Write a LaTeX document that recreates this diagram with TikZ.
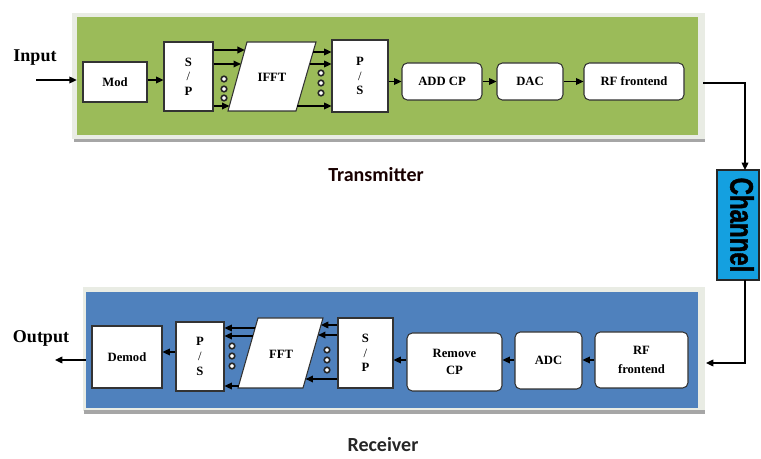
\documentclass[tikz,border=0pt]{standalone}
\usepackage{fontspec}
\setmainfont{Liberation Serif}
\newfontfamily\carlito{Carlito}
\newfontfamily\lsans[FakeBold=1.5]{Liberation Sans}
\usetikzlibrary{arrows.meta}
\definecolor{txgreen}{HTML}{9BBB59}
\definecolor{rxblue}{HTML}{4F81BD}
\definecolor{chcyan}{HTML}{14A0E0}
\definecolor{panelrim}{HTML}{E9ECE4}
\begin{document}
\begin{tikzpicture}[x=0.75pt,y=-0.75pt,
  blk/.style={draw=black!80, line width=0.8pt, fill=white, inner sep=0pt,
    font=\bfseries\fontsize{9.5}{10}\selectfont, align=center},
  rblk/.style={blk, rounded corners=4pt},
  arr/.style={-{Triangle[length=5.5pt,width=5pt]}, line width=1pt},
  dotc/.style={circle, draw=black!85, line width=1.2pt, fill=white, inner sep=0pt, minimum size=4.2pt},
  para/.style={draw=black!80, line width=0.8pt, fill=white},
  ptxt/.style={font=\bfseries\fontsize{9.5}{10}\selectfont},
  iolbl/.style={font=\bfseries\fontsize{13.5}{14}\selectfont},
  captxt/.style={font=\carlito\bfseries\fontsize{15}{16}\selectfont, inner sep=0pt, anchor=base}
]
\useasboundingbox (0,0) rectangle (761,459);

% ---------------- Transmitter panel ----------------
\fill[panelrim] (72,13) rectangle (705,139);
\fill[black!35] (74,139) rectangle (705,142);
\node[fill=txgreen, inner sep=0pt, minimum width=465.75pt, minimum height=88.5pt] (tx) at (387.5,76) {};

\node[iolbl] (inlbl) at (35,58) {Input};
\coordinate (instart) at (36,80);

\node[blk, minimum width=48pt, minimum height=30pt] (mod) at (115,82) {Mod};
\node[blk, minimum width=36.75pt, minimum height=51.75pt] (sp1) at (188.5,76.5) {S\\[1pt]{\mdseries /}\\[1pt]P};
\draw[para] (228,111) -- (247,42) -- (316,42) -- (296,111) -- cycle;
\node[ptxt] (ifft) at (272,77) {IFFT};
\node[blk, minimum width=42pt, minimum height=54pt] (ps1) at (360,76) {P\\[1pt]{\mdseries /}\\[1pt]S};
\node[rblk, minimum width=60pt, minimum height=27.75pt] (addcp) at (442,81.5) {ADD CP};
\node[rblk, minimum width=49.5pt, minimum height=27.75pt] (dac) at (530,81.5) {DAC};
\node[rblk, minimum width=75pt, minimum height=27.75pt] (rf1) at (634,81.5) {RF frontend};

\draw[arr] (instart) -- (instart -| tx.west);
\draw[arr] (mod.east |- 0,80) -- (sp1.west |- 0,80);

% S/P -> IFFT
\coordinate (ia) at (244.8,50);
\coordinate (ib) at (240.9,64);
\coordinate (ic) at (229.4,106);
\draw[arr] (sp1.east |- ia) -- (ia);
\draw[arr] (sp1.east |- ib) -- (ib);
\draw[arr] (sp1.east |- ic) -- (ic);
\node[dotc] (d1) at (224,79) {};
\node[dotc] (d2) at (224,89) {};
\node[dotc] (d3) at (224,98) {};

% IFFT -> P/S
\coordinate (oa) at (313.1,52);
\coordinate (ob) at (309.6,64);
\coordinate (oc) at (297.4,106);
\draw[arr] (oa) -- (ps1.west |- oa);
\draw[arr] (ob) -- (ps1.west |- ob);
\draw[arr] (oc) -- (ps1.west |- oc);
\node[dotc] (d4) at (321,73) {};
\node[dotc] (d5) at (321,83) {};
\node[dotc] (d6) at (321,93) {};

\draw[arr] (ps1.east |- addcp) -- (addcp.west);
\draw[arr] (addcp) -- (dac);
\draw[arr] (dac) -- (rf1);

\node[captxt, text=black!90!red] (txlbl) at (376,182) {Transmitter};

% ---------------- Channel ----------------
\node[draw=black!85, line width=1pt, fill=chcyan, minimum width=31.5pt, minimum height=82.5pt, inner sep=0pt] (ch) at (738,225) {};
\node[rotate=-90, font=\lsans\bfseries\fontsize{18}{18}\selectfont] (chlbl) at (742,225) {\scalebox{1}[1.35]{Channel}};
\coordinate (txout) at (703,83);
\coordinate (chtop) at (745,170);
\coordinate (chbot) at (745,280);
\coordinate (rxin) at (706,363);
\draw[arr] (txout) -| (chtop);
\draw[arr] (chbot) |- (rxin);

% ---------------- Receiver panel ----------------
\fill[panelrim] (83,287) rectangle (705,411);
\fill[black!35] (84,410) rectangle (705,414);
\node[fill=rxblue, inner sep=0pt, minimum width=459pt, minimum height=87pt] (rx) at (392,350) {};

\node[iolbl] (outlbl) at (41,338) {Output};
\coordinate (outend) at (55,360);

\node[blk, minimum width=52.5pt, minimum height=46.5pt] (demod) at (127,357) {Demod};
\node[blk, minimum width=36pt, minimum height=51.75pt] (ps2) at (200,356.5) {P\\[1pt]{\mdseries /}\\[1pt]S};
\draw[para] (238,388) -- (258,318) -- (323,318) -- (303,388) -- cycle;
\node[ptxt] (fft) at (281,354) {FFT};
\node[blk, minimum width=41.25pt, minimum height=52.5pt] (sp2) at (365.5,353) {S\\[1pt]{\mdseries /}\\[1pt]P};
\node[rblk, minimum width=71.25pt, minimum height=43.5pt] (rcp) at (454.5,362) {Remove\\[3pt]CP};
\node[rblk, minimum width=50.25pt, minimum height=42.75pt] (adc) at (548.5,360.5) {ADC};
\node[rblk, minimum width=69.75pt, minimum height=42pt] (rf2) at (641.5,360) {RF\\[4pt]frontend};

\draw[arr] (rx.west |- outend) -- (outend);
\draw[arr] (ps2.west |- 0,352) -- (demod.east |- 0,352);

% FFT -> P/S
\coordinate (fa) at (255.1,328);
\coordinate (fb) at (252.9,336);
\coordinate (fc) at (238.6,386);
\draw[arr] (fa) -- (ps2.east |- fa);
\draw[arr] (fb) -- (ps2.east |- fb);
\draw[arr] (fc) -- (ps2.east |- fc);
\node[dotc] (d7) at (232,346) {};
\node[dotc] (d8) at (232,356) {};
\node[dotc] (d9) at (232,366) {};

% S/P -> FFT
\coordinate (ga) at (321,325);
\coordinate (gb) at (318.1,335);
\coordinate (gc) at (305.6,379);
\draw[arr] (sp2.west |- ga) -- (ga);
\draw[arr] (sp2.west |- gb) -- (gb);
\draw[arr] (sp2.west |- gc) -- (gc);
\node[dotc] (d10) at (327,350) {};
\node[dotc] (d11) at (327,360) {};
\node[dotc] (d12) at (327,370) {};

\draw[arr] (rcp.west |- 0,360) -- (sp2.east |- 0,360);
\draw[arr] (adc.west |- 0,360) -- (rcp.east |- 0,360);
\draw[arr] (rf2.west |- 0,360) -- (adc.east |- 0,360);

\node[captxt, text=black!85] (rxlbl) at (383,452) {Receiver};
\end{tikzpicture}
\end{document}
